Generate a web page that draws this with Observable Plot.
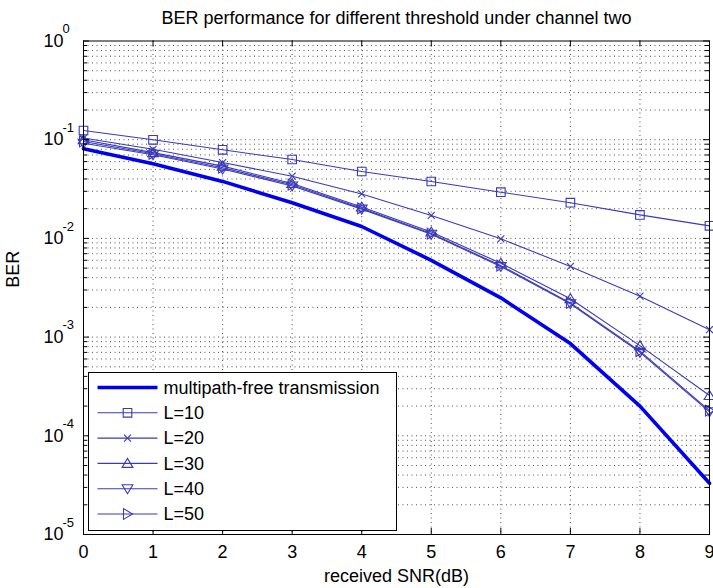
<!DOCTYPE html>
<html>
<head>
<meta charset="utf-8">
<script src="https://cdn.jsdelivr.net/npm/d3@7"></script>
<script src="https://cdn.jsdelivr.net/npm/@observablehq/plot@0.6"></script>
<style>
  body { margin: 0; background: #fff; }
  #chart svg { display: block; }
</style>
</head>
<body>
<div id="chart"></div>
<script>
// Received SNR (dB) at which BER was evaluated
const snr = [0, 1, 2, 3, 4, 5, 6, 7, 8, 9];

// BER per curve
const berFree = [0.081, 0.057, 0.0378, 0.023, 0.0132, 0.006, 0.0025, 0.00086, 0.0002, 0.000033];
const berL10  = [0.124, 0.0998, 0.079, 0.063, 0.0476, 0.0377, 0.0294, 0.023, 0.0173, 0.0134];
const berL20  = [0.104, 0.080, 0.0587, 0.0427, 0.0282, 0.0171, 0.0099, 0.0052, 0.0026, 0.00119];
const berL30  = [0.100, 0.074, 0.054, 0.036, 0.0208, 0.0116, 0.0056, 0.00245, 0.00082, 0.000256];
const berL40  = [0.092, 0.0705, 0.0505, 0.034, 0.0198, 0.011, 0.0052, 0.00218, 0.0007, 0.000175];
const berL50  = [0.096, 0.072, 0.052, 0.035, 0.0202, 0.0112, 0.0053, 0.00222, 0.00072, 0.00018];

const seriesNames = ["multipath-free transmission", "L=10", "L=20", "L=30", "L=40", "L=50"];

// Axis ticks
const xTicks = [0, 1, 2, 3, 4, 5, 6, 7, 8, 9];
const yExponents = [-5, -4, -3, -2, -1, 0];
const yDecades = yExponents.map(e => Math.pow(10, e));
const yMinor = yExponents.slice(0, -1).flatMap(e => [2, 3, 4, 5, 6, 7, 8, 9].map(m => m * Math.pow(10, e)));

const titleText = "BER performance for different threshold under channel two";
const xLabel = "received SNR(dB)";
const yLabel = "BER";

// Marker shapes (outline only), sized from the dot radius
const rOf = size => Math.sqrt(size / Math.PI);
const symSquare = { draw(c, s) { const r = rOf(s) * 0.86; c.moveTo(-r, -r); c.lineTo(r, -r); c.lineTo(r, r); c.lineTo(-r, r); c.closePath(); } };
const symTimes  = { draw(c, s) { const r = rOf(s) * 0.7; c.moveTo(-r, -r); c.lineTo(r, r); c.moveTo(r, -r); c.lineTo(-r, r); } };
const symUp     = { draw(c, s) { const k = rOf(s) / 5; c.moveTo(0, -5 * k); c.lineTo(5.4 * k, 4 * k); c.lineTo(-5.4 * k, 4 * k); c.closePath(); } };
const symDown   = { draw(c, s) { const k = rOf(s) / 5; c.moveTo(0, 5 * k); c.lineTo(5.4 * k, -4 * k); c.lineTo(-5.4 * k, -4 * k); c.closePath(); } };
const symRight  = { draw(c, s) { const k = rOf(s) / 5; c.moveTo(5 * k, 0); c.lineTo(-4 * k, 5.4 * k); c.lineTo(-4 * k, -5.4 * k); c.closePath(); } };

const thinColor = "#3a3abb";
const thickColor = "#0000f0";
const font = "'Liberation Sans', Arial, Helvetica, sans-serif";

const W = 713, H = 588;
const mL = 83, mR = 4, mT = 40.5, mB = 54;
const frameW = W - mL - mR, frameH = H - mT - mB;
const majorLen = 6, minorLen = 4;

const markerSeries = [
  {values: berL10, symbol: symSquare},
  {values: berL20, symbol: symTimes},
  {values: berL30, symbol: symUp},
  {values: berL40, symbol: symDown},
  {values: berL50, symbol: symRight}
];

const gridStyle = {stroke: "#333", strokeWidth: 1, strokeDasharray: "1,3.5", strokeOpacity: 0.85};

const plot = Plot.plot({
  width: W,
  height: H,
  marginLeft: mL,
  marginRight: mR,
  marginTop: mT,
  marginBottom: mB,
  style: {fontFamily: font, background: "white", color: "black"},
  x: {domain: [0, 9], axis: null},
  y: {type: "log", domain: [1e-5, 1], axis: null},
  marks: [
    // dotted grid
    Plot.ruleX(xTicks.slice(1, -1), {x: d => d, ...gridStyle}),
    Plot.ruleY(yMinor.concat(yDecades.slice(1, -1)), {y: d => d, ...gridStyle}),

    // curves
    ...markerSeries.map(s => Plot.line(s.values, {x: snr, y: s.values, stroke: thinColor, strokeWidth: 1.1})),
    ...markerSeries.map(s => Plot.dot(s.values, {x: snr, y: s.values, r: 5, symbol: s.symbol, stroke: thinColor, strokeWidth: 1.1, fill: "none"})),
    Plot.line(berFree, {x: snr, y: berFree, stroke: thickColor, strokeWidth: 3.6}),

    // box and inward ticks on all sides
    Plot.frame({stroke: "black", strokeWidth: 1}),
    Plot.tickX(xTicks, {x: d => d, stroke: "black", insetTop: frameH - majorLen}),
    Plot.tickX(xTicks, {x: d => d, stroke: "black", insetBottom: frameH - majorLen}),
    Plot.tickY(yDecades, {y: d => d, stroke: "black", insetRight: frameW - majorLen}),
    Plot.tickY(yDecades, {y: d => d, stroke: "black", insetLeft: frameW - majorLen}),
    Plot.tickY(yMinor, {y: d => d, stroke: "black", insetRight: frameW - minorLen}),
    Plot.tickY(yMinor, {y: d => d, stroke: "black", insetLeft: frameW - minorLen}),

    // tick labels
    Plot.text(xTicks, {x: d => d, y: 1e-5, text: d => String(d), dy: 18, fontSize: 18, lineAnchor: "middle", fill: "black"}),
    Plot.text(yDecades, {x: 0, y: d => d, text: () => "10", dx: -20, textAnchor: "end", lineAnchor: "middle", fontSize: 18, fill: "black"}),
    Plot.text(yDecades, {x: 0, y: d => d, text: (d, i) => String(yExponents[i]), dx: -21, dy: -12, textAnchor: "start", lineAnchor: "middle", fontSize: 13, fill: "black"}),

    // title and axis labels
    Plot.text([titleText], {frameAnchor: "top", text: d => d, dy: -23, fontSize: 18, lineAnchor: "middle", fill: "black"}),
    Plot.text([xLabel], {frameAnchor: "bottom", text: d => d, dy: 42, fontSize: 18, lineAnchor: "middle", fill: "black"}),
    Plot.text([yLabel], {frameAnchor: "left", text: d => d, dx: -70, rotate: -90, fontSize: 18, lineAnchor: "middle", fill: "black"})
  ]
});

document.getElementById("chart").append(plot);

// Legend box in the lower-left corner of the axes
const xs = plot.scale("x"), ys = plot.scale("y");
const fx = xs.apply(0), fb = ys.apply(1e-5);
const boxW = 308, boxH = 158, rowStep = 25.3;
const bx = fx + 4.5, by = fb - 4 - boxH;
const svg = d3.select(plot);
const lg = svg.append("g")
  .attr("font-family", font)
  .attr("font-size", 18)
  .attr("text-anchor", "start");
lg.append("rect")
  .attr("x", Math.round(bx) + 0.5).attr("y", Math.round(by) + 0.5)
  .attr("width", boxW).attr("height", boxH)
  .attr("fill", "white").attr("stroke", "black");

const legendSymbols = [null, symSquare, symTimes, symUp, symDown, symRight];
seriesNames.forEach((name, i) => {
  const yy = by + 15.5 + i * rowStep;
  const thick = i === 0;
  lg.append("line")
    .attr("x1", bx + 10).attr("x2", bx + 70).attr("y1", yy).attr("y2", yy)
    .attr("stroke", thick ? thickColor : thinColor)
    .attr("stroke-width", thick ? 3.6 : 1.1);
  if (legendSymbols[i]) {
    lg.append("path")
      .attr("transform", `translate(${bx + 40},${yy})`)
      .attr("d", d3.symbol(legendSymbols[i], Math.PI * 25)())
      .attr("fill", "none").attr("stroke", thinColor).attr("stroke-width", 1.1);
  }
  lg.append("text")
    .attr("x", bx + 76).attr("y", yy).attr("dy", "0.35em")
    .attr("text-anchor", "start")
    .attr("fill", "black")
    .text(name);
});
</script>
</body>
</html>
